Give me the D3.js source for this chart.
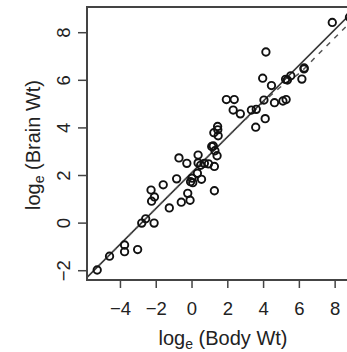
<!DOCTYPE html>
<html>
<head>
  <script src="https://d3js.org/d3.v7.min.js"></script>
  <style>
    body { margin: 0; background: #fff; }
    text { font-family: "Liberation Sans", Arial, sans-serif; fill: #222; }
  </style>
</head>
<body>
  <svg id="chart" width="347" height="352"></svg>
  <script>
    // log_e body weight (kg) and log_e brain weight (g), 62 mammals
    const logBody = [1.22, -0.73, 0.30, 6.14, 3.59, 3.32, 2.70, 0.04, 1.43, -0.86,
      -2.29, -0.08, 0.00, -5.30, -2.81, 1.25, 0.69, 0.53, 7.84, -3.77,
      5.23, 6.26, -0.24, 2.30, 1.19, -1.61, 0.34, 6.27, 5.33, 4.44,
      -0.29, 4.13, 8.80, 1.25, 1.92, 3.56, 1.40, -2.12, -3.77, -4.61,
      0.34, 5.52, 0.92, 4.02, 4.61, 3.95, 2.36, -0.60, 4.09, 1.28,
      1.46, -1.27, -2.59, -2.10, -3.04, 5.26, 1.10, 5.08, -0.11, 0.48,
      -2.26, 1.44];
    const logBrain = [3.80, 2.74, 2.09, 6.05, 4.78, 4.75, 4.59, 1.70, 4.06, 1.86,
      1.39, 1.74, 1.89, -1.97, 0.00, 2.38, 2.51, 1.84, 8.43, -1.20,
      6.04, 6.48, 1.25, 4.75, 3.24, 1.61, 2.86, 6.52, 6.01, 5.78,
      2.51, 7.19, 8.65, 1.36, 5.19, 4.03, 2.83, 0.00, -0.92, -1.39,
      2.53, 6.19, 2.49, 5.17, 5.06, 6.09, 5.19, 0.88, 4.39, 3.04,
      3.67, 0.64, 0.18, 1.10, -1.11, 5.19, 3.22, 5.13, 0.96, 2.43,
      0.92, 3.92];

    // fitted regression line
    const fitIntercept = 2.13;
    const fitSlope = 0.752;

    // smooth (dashed)
    const smoothX = [-5.3, 0, 3, 5, 6, 7, 8.8];
    const smoothY = [-1.86, 2.13, 4.37, 5.75, 6.3, 7.05, 8.4];

    const xTicks = [-4, -2, 0, 2, 4, 6, 8];
    const yTicks = [-2, 0, 2, 4, 6, 8];

    const svg = d3.select("#chart");
    const m = {left: 87, right: 350, top: 7, bottom: 280};

    const x = d3.scaleLinear().domain([-5.87, 8.83]).range([m.left, m.right]);
    const y = d3.scaleLinear().domain([-2.39, 9.08]).range([m.bottom, m.top]);

    svg.append("clipPath").attr("id", "clip")
      .append("rect")
      .attr("x", m.left).attr("y", m.top)
      .attr("width", m.right - m.left).attr("height", m.bottom - m.top);

    const plot = svg.append("g").attr("clip-path", "url(#clip)");

    // regression line
    const xd = x.domain();
    plot.append("line")
      .attr("x1", x(xd[0])).attr("y1", y(fitIntercept + fitSlope * xd[0]))
      .attr("x2", x(xd[1])).attr("y2", y(fitIntercept + fitSlope * xd[1]))
      .attr("stroke", "#333").attr("stroke-width", 1.6);

    const smooth = d3.line()
      .x(d => x(d[0])).y(d => y(d[1]))
      .curve(d3.curveMonotoneX);
    plot.append("path")
      .datum(smoothX.map((v, i) => [v, smoothY[i]]))
      .attr("d", smooth)
      .attr("fill", "none")
      .attr("stroke", "#555").attr("stroke-width", 1.5)
      .attr("stroke-dasharray", "5,6");

    plot.selectAll("circle")
      .data(logBody.map((v, i) => [v, logBrain[i]]))
      .enter().append("circle")
      .attr("cx", d => x(d[0]))
      .attr("cy", d => y(d[1]))
      .attr("r", 3.7)
      .attr("fill", "none")
      .attr("stroke", "#111")
      .attr("stroke-width", 1.9);

    // box
    svg.append("rect")
      .attr("x", m.left).attr("y", m.top)
      .attr("width", m.right - m.left).attr("height", m.bottom - m.top)
      .attr("fill", "none").attr("stroke", "#444").attr("stroke-width", 2);

    // x axis
    const xAxis = svg.append("g");
    xAxis.selectAll("line").data(xTicks).enter().append("line")
      .attr("x1", d => x(d)).attr("x2", d => x(d))
      .attr("y1", m.bottom).attr("y2", m.bottom + 8)
      .attr("stroke", "#444").attr("stroke-width", 1.5);
    xAxis.selectAll("text").data(xTicks).enter().append("text")
      .attr("x", d => x(d)).attr("y", 315)
      .attr("text-anchor", "middle")
      .style("font-size", "18.5px")
      .text(d => d < 0 ? "\u2212" + Math.abs(d) : d);

    // y axis
    const yAxis = svg.append("g");
    yAxis.selectAll("line").data(yTicks).enter().append("line")
      .attr("x1", m.left - 9).attr("x2", m.left)
      .attr("y1", d => y(d)).attr("y2", d => y(d))
      .attr("stroke", "#444").attr("stroke-width", 1.5);
    yAxis.selectAll("text").data(yTicks).enter().append("text")
      .attr("transform", d => `translate(70,${y(d)}) rotate(-90)`)
      .attr("text-anchor", "middle")
      .style("font-size", "18.5px")
      .text(d => d < 0 ? "\u2212" + Math.abs(d) : d);

    // axis titles
    const xt = svg.append("text")
      .attr("x", 223).attr("y", 345)
      .attr("text-anchor", "middle")
      .style("font-size", "20px");
    xt.append("tspan").text("log");
    xt.append("tspan").attr("dy", 4).style("font-size", "14px").text("e");
    xt.append("tspan").attr("dy", -4).text(" (Body Wt)");

    const yt = svg.append("text")
      .attr("transform", "translate(39.5,145) rotate(-90)")
      .attr("text-anchor", "middle")
      .style("font-size", "20px");
    yt.append("tspan").text("log");
    yt.append("tspan").attr("dy", 4).style("font-size", "14px").text("e");
    yt.append("tspan").attr("dy", -4).text(" (Brain Wt)");
  </script>
</body>
</html>
